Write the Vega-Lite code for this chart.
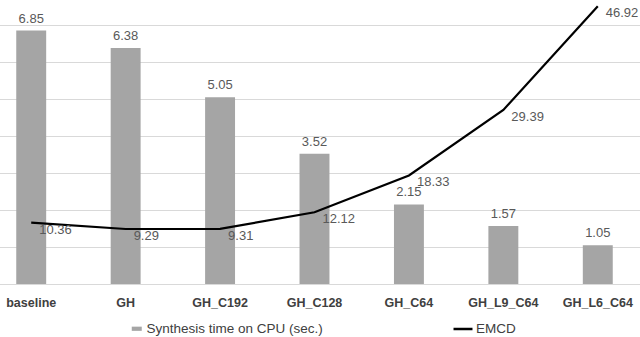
{
  "$schema": "https://vega.github.io/schema/vega-lite/v6.json",
  "autosize": {"type": "none"},
  "width": 640,
  "height": 259,
  "padding": {"left": 0, "top": 25, "right": 0, "bottom": 53},
  "background": "white",
  "config": {
    "view": {"stroke": null},
    "font": "Liberation Sans"
  },
  "data": {
    "values": [
      {"config": "baseline", "cpu": 6.85, "emcd": 10.36},
      {"config": "GH", "cpu": 6.38, "emcd": 9.29},
      {"config": "GH_C192", "cpu": 5.05, "emcd": 9.31},
      {"config": "GH_C128", "cpu": 3.52, "emcd": 12.12},
      {"config": "GH_C64", "cpu": 2.15, "emcd": 18.33},
      {"config": "GH_L9_C64", "cpu": 1.57, "emcd": 29.39},
      {"config": "GH_L6_C64", "cpu": 1.05, "emcd": 46.92}
    ]
  },
  "encoding": {
    "x": {
      "field": "config",
      "type": "nominal",
      "sort": null,
      "scale": {"range": [-16, 645], "paddingInner": 0.683, "paddingOuter": 0.3415},
      "axis": {
        "title": null,
        "labelAngle": 0,
        "ticks": false,
        "domainColor": "#d9d9d9",
        "labelFont": "Liberation Sans",
        "labelFontWeight": "bold",
        "labelFontSize": 12.5,
        "labelColor": "#404040",
        "labelPadding": 12
      }
    }
  },
  "layer": [
    {
      "encoding": {
        "y": {
          "field": "cpu",
          "type": "quantitative",
          "scale": {"domain": [0, 7], "nice": false},
          "axis": {
            "title": null,
            "labels": false,
            "ticks": false,
            "domain": false,
            "values": [0, 1, 2, 3, 4, 5, 6, 7],
            "gridColor": "#d9d9d9",
            "gridWidth": 1
          }
        }
      },
      "layer": [
        {
          "mark": {"type": "bar", "color": "#a5a5a5"},
          "encoding": {
            "fill": {
              "datum": "Synthesis time on CPU (sec.)",
              "type": "nominal",
              "scale": {"range": ["#a5a5a5"]},
              "legend": {
                "title": null,
                "orient": "none",
                "legendX": 130,
                "legendY": 297,
                "symbolType": "M-1,-0.42H1V0.42H-1Z",
                "symbolSize": 100,
                "symbolStrokeWidth": 0,
                "labelFontSize": 13.5,
                "labelLimit": 0,
                "labelColor": "#404040",
                "labelOffset": 3
              }
            }
          }
        },
        {
          "mark": {"type": "text", "baseline": "bottom", "dy": -5, "fontSize": 13, "color": "#595959"},
          "encoding": {
            "text": {"field": "cpu", "type": "quantitative", "format": ".2f"}
          }
        }
      ]
    },
    {
      "encoding": {
        "y": {
          "field": "emcd",
          "type": "quantitative",
          "scale": {"domain": [0, 43.75], "nice": false},
          "axis": null
        }
      },
      "layer": [
        {
          "mark": {"type": "line", "color": "black", "strokeWidth": 2.2},
          "encoding": {
            "stroke": {
              "datum": "EMCD",
              "type": "nominal",
              "scale": {"range": ["black"]},
              "legend": {
                "title": null,
                "orient": "none",
                "legendX": 452,
                "legendY": 293,
                "symbolType": "stroke",
                "symbolSize": 360,
                "symbolStrokeWidth": 2.5,
                "labelFontSize": 13.5,
                "labelLimit": 0,
                "labelColor": "#404040",
                "labelOffset": 2
              }
            }
          }
        },
        {
          "mark": {"type": "text", "align": "left", "baseline": "middle", "dx": 8, "dy": 7, "fontSize": 13, "color": "#595959"},
          "encoding": {
            "text": {"field": "emcd", "type": "quantitative", "format": ".2f"}
          }
        }
      ]
    }
  ],
  "resolve": {"scale": {"y": "independent"}}
}
